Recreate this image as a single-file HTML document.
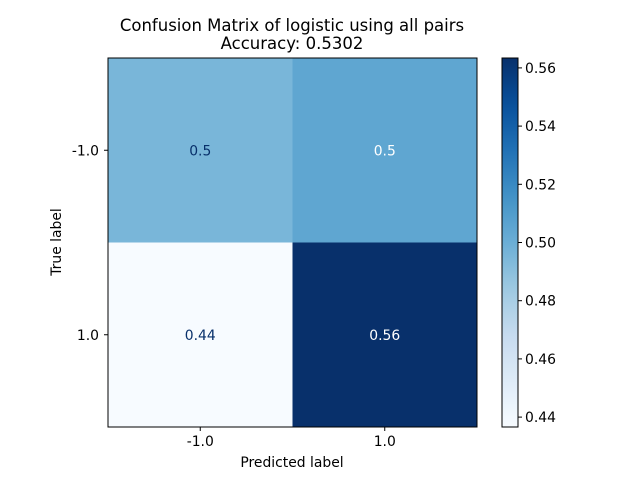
<!DOCTYPE html>
<html><head><meta charset="utf-8"><style>
body{margin:0;background:#fff;}
svg{display:block;font-family:"DejaVu Sans","Liberation Sans",sans-serif;}
</style></head><body>
<svg id="chart" width="640" height="480">
<text x="292" y="31" font-size="16.5" text-anchor="middle">Confusion Matrix of logistic using all pairs</text>
<text x="292" y="49" font-size="16.5" text-anchor="middle">Accuracy: 0.5302</text>
<g id="cells"></g>
<rect x="108" y="58" width="369" height="369" fill="none" stroke="#000" stroke-width="1"/>
<g id="axes" font-size="13.9"></g>
<text x="292" y="467" font-size="13.9" text-anchor="middle">Predicted label</text>
<text x="61" y="242" font-size="13.9" text-anchor="middle" transform="rotate(-90 61 242)">True label</text>
<defs><linearGradient id="cbg" x1="0" y1="1" x2="0" y2="0"></linearGradient></defs>
<rect x="502" y="58" width="16" height="369" fill="url(#cbg)" stroke="#000" stroke-width="1"/>
<g id="cbticks" font-size="13.9"></g>
</svg>
<script>
const xLabels=["-1.0","1.0"];
const yLabels=["-1.0","1.0"];
const values=[[0.4955,0.5045],[0.4366,0.5634]];
const printed=[["0.5","0.5"],["0.44","0.56"]];
const cbTicks=[0.44,0.46,0.48,0.50,0.52,0.54,0.56];
const stops=["#f7fbff","#deebf7","#c6dbef","#9ecae1","#6baed6","#4292c6","#2171b5","#08519c","#08306b"];
const NS="http://www.w3.org/2000/svg";
const flat=values.flat();const vmin=Math.min(...flat),vmax=Math.max(...flat);
function hex(h){return [1,3,5].map(i=>parseInt(h.substr(i,2),16));}
function cmap(t){t=Math.max(0,Math.min(1,t));const p=t*(stops.length-1);const i=Math.min(Math.floor(p),stops.length-2);const f=p-i;const a=hex(stops[i]),b=hex(stops[i+1]);return "rgb("+a.map((v,k)=>Math.round(v+(b[k]-v)*f)).join(",")+")";}
const X0=108,Y0=58,W=369,H=369;
const cw=W/xLabels.length,ch=H/yLabels.length;
function el(tag,attrs,parent){const e=document.createElementNS(NS,tag);for(const k in attrs)e.setAttribute(k,attrs[k]);parent.appendChild(e);return e;}
const cells=document.getElementById("cells"),axes=document.getElementById("axes");
const thr=(vmin+vmax)/2;
values.forEach((row,r)=>row.forEach((v,c)=>{
 const rc=el("rect",{x:X0+c*cw,y:Y0+r*ch,width:cw,height:ch,fill:cmap((v-vmin)/(vmax-vmin))},cells);
 
 
 const t=el("text",{x:X0+(c+.5)*cw,y:Y0+(r+.5)*ch+5,"font-size":13.9,"text-anchor":"middle",fill:v>thr?"#fff":"#08306b"},cells);
 t.textContent=printed[r][c];
 
 
}));
xLabels.forEach((l,i)=>{const x=X0+(i+.5)*cw;
 el("line",{x1:x,x2:x,y1:427,y2:431,stroke:"#000"},axes);
 const t=el("text",{x:x,y:446,"text-anchor":"middle"},axes);t.textContent=l;
 
 });
yLabels.forEach((l,i)=>{const y=Y0+(i+.5)*ch;
 el("line",{x1:104,x2:108,y1:y,y2:y,stroke:"#000"},axes);
 const t=el("text",{x:99,y:y+5,"text-anchor":"end"},axes);t.textContent=l;
 
 });
const g=document.getElementById("cbg");
for(let i=0;i<=20;i++){el("stop",{offset:i/20,"stop-color":cmap(i/20)},g);}
const cb=document.getElementById("cbticks");
cbTicks.forEach(v=>{const y=427-(v-vmin)/(vmax-vmin)*369;
 el("line",{x1:518,x2:522,y1:y,y2:y,stroke:"#000"},cb);
 const t=el("text",{x:525,y:y+5},cb);t.textContent=v.toFixed(2);
 
 });
</script>
</body></html>
